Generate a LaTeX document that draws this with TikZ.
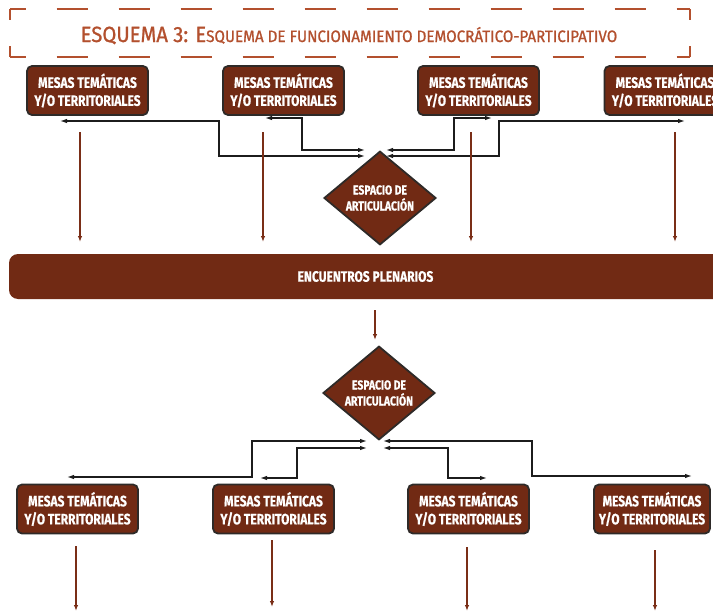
\documentclass[tikz,border=0pt]{standalone}
\usepackage{fontspec}
\usetikzlibrary{shapes.geometric,arrows.meta}
\newfontfamily\cardfont[FakeStretch=0.8,BoldFeatures={FakeBold=0.6}]{Fira Sans}
\newfontfamily\headfont[FakeStretch=0.92,FakeBold=1.0]{Fira Sans}
\definecolor{mesa}{HTML}{712A14}
\definecolor{rust}{HTML}{B3502E}
\definecolor{flow}{HTML}{7A2E17}
\definecolor{ink}{HTML}{1C1C1C}
\definecolor{rim}{HTML}{2E2A28}
\tikzset{
  mesabox/.style={draw=rim, line width=1.8pt, fill=mesa, rounded corners=5pt,
    minimum width=121pt, minimum height=49pt, inner sep=0pt,
    text=white, align=center,
    font=\cardfont\bfseries\fontsize{15}{18}\selectfont},
  hub/.style={diamond, draw=rim, line width=1.8pt, fill=mesa,
    minimum width=112pt, minimum height=90pt, inner sep=0pt,
    text=white, align=center,
    font=\cardfont\bfseries\fontsize{13}{16}\selectfont},
  plenary/.style={fill=mesa, rounded corners=9pt, minimum width=713pt,
    minimum height=45pt, inner sep=0pt, text=white,
    font=\cardfont\bfseries\fontsize{15}{18}\selectfont},
  link/.style={draw=ink, line width=1.2pt,
    {Latex[length=7pt,width=4.5pt]}-{Latex[length=7pt,width=4.5pt]}},
  feed/.style={draw=flow, line width=1.3pt, -{Latex[length=6pt,width=4.5pt]}},
  frame/.style={draw=rust, line width=1.3pt}
}
\begin{document}
\begin{tikzpicture}[x=1pt,y=-1pt]
\useasboundingbox (0,0) rectangle (713,613);
\clip (0,0) rectangle (713,613);

% title with dashed bracket frame
\draw[frame, dash pattern=on 31pt off 31pt, dash phase=15.5pt] (10,9) -- (690,9);
\draw[frame, dash pattern=on 31pt off 31pt, dash phase=15.5pt] (10,57) -- (690,57);
\draw[frame, dash pattern=on 11pt off 26pt] (10,9) -- (10,57);
\draw[frame, dash pattern=on 11pt off 26pt] (690,9) -- (690,57);
\node[text=rust, anchor=base, inner sep=0pt] (title) at (349,42)
  {\headfont\fontsize{22}{22}\selectfont ESQUEMA 3: E{\fontsize{16.5}{16}\selectfont SQUEMA DE FUNCIONAMIENTO DEMOCRÁTICO-PARTICIPATIVO}};

% upper tables
\node[mesabox] (t1) at (87.5,90.5) {MESAS TEMÁTICAS\\Y/O TERRITORIALES};
\node[mesabox] (t2) at (283.5,90.5) {MESAS TEMÁTICAS\\Y/O TERRITORIALES};
\node[mesabox] (t3) at (478.5,90.5) {MESAS TEMÁTICAS\\Y/O TERRITORIALES};
\node[mesabox] (t4) at (665,90.5) {MESAS TEMÁTICAS\\Y/O TERRITORIALES};

% first articulation space
\node[hub] (d1) at (380,198) {ESPACIO DE\\ARTICULACIÓN};

% plenary bar
\node[plenary] (plen) at (365.5,276.5) {ENCUENTROS PLENARIOS};

% second articulation space
\node[hub] (d2) at (379,393) {ESPACIO DE\\ARTICULACIÓN};

% lower tables
\node[mesabox] (b1) at (77.5,509) {MESAS TEMÁTICAS\\Y/O TERRITORIALES};
\node[mesabox] (b2) at (273.5,509) {MESAS TEMÁTICAS\\Y/O TERRITORIALES};
\node[mesabox] (b3) at (468.5,509) {MESAS TEMÁTICAS\\Y/O TERRITORIALES};
\node[mesabox, minimum width=116pt] (b4) at (652,509) {MESAS TEMÁTICAS\\Y/O TERRITORIALES};

% connector end points near the upper tables and the first hub
\coordinate (t1e) at (60,121);
\coordinate (t2e) at (265,118);
\coordinate (t3e) at (492,118);
\coordinate (t4e) at (685,121);
\coordinate (d1wa) at (365,150);
\coordinate (d1wb) at (365,156);
\coordinate (d1ea) at (386,150);
\coordinate (d1eb) at (386,156);

\draw[link] (t1e) -- ++(159,0) |- (d1wb);
\draw[link] (t2e) -- ++(37,0) |- (d1wa);
\draw[link] (t3e) -- ++(-38,0) |- (d1ea);
\draw[link] (t4e) -- ++(-186,0) |- (d1eb);

% connector end points near the second hub and the lower tables
\coordinate (b1e) at (67,477);
\coordinate (b2e) at (260,478);
\coordinate (b3e) at (487,478);
\coordinate (b4e) at (692,476);
\coordinate (d2wa) at (367,441);
\coordinate (d2wb) at (367,448);
\coordinate (d2ea) at (383,441);
\coordinate (d2eb) at (383,448);

\draw[link] (b1e) -- ++(185,0) |- (d2wa);
\draw[link] (b2e) -- ++(37,0) |- (d2wb);
\draw[link] (b3e) -- ++(-39,0) |- (d2eb);
\draw[link] (b4e) -- ++(-160,0) |- (d2ea);

% flows from the upper tables into the plenary
\coordinate (f1) at (80,132);
\coordinate (f2) at (263,132);
\coordinate (f3) at (471,132);
\coordinate (f4) at (675,132);
\draw[feed] (f1) -- (f1 |- 0,242);
\draw[feed] (f2) -- (f2 |- 0,242);
\draw[feed] (f3) -- (f3 |- 0,242);
\draw[feed] (f4) -- (f4 |- 0,242);

% plenary to second hub
\coordinate (p0) at (375,310);
\draw[feed] (p0) -- (375,340);

% outgoing flows from the lower tables
\coordinate (g1) at (76,546);
\coordinate (g2) at (272,540);
\coordinate (g3) at (467,547);
\coordinate (g4) at (655,550);
\draw[feed] (g1) -- (g1 |- 0,611);
\draw[feed] (g2) -- (g2 |- 0,607);
\draw[feed] (g3) -- (g3 |- 0,611);
\draw[feed] (g4) -- (g4 |- 0,611);
\end{tikzpicture}
\end{document}
